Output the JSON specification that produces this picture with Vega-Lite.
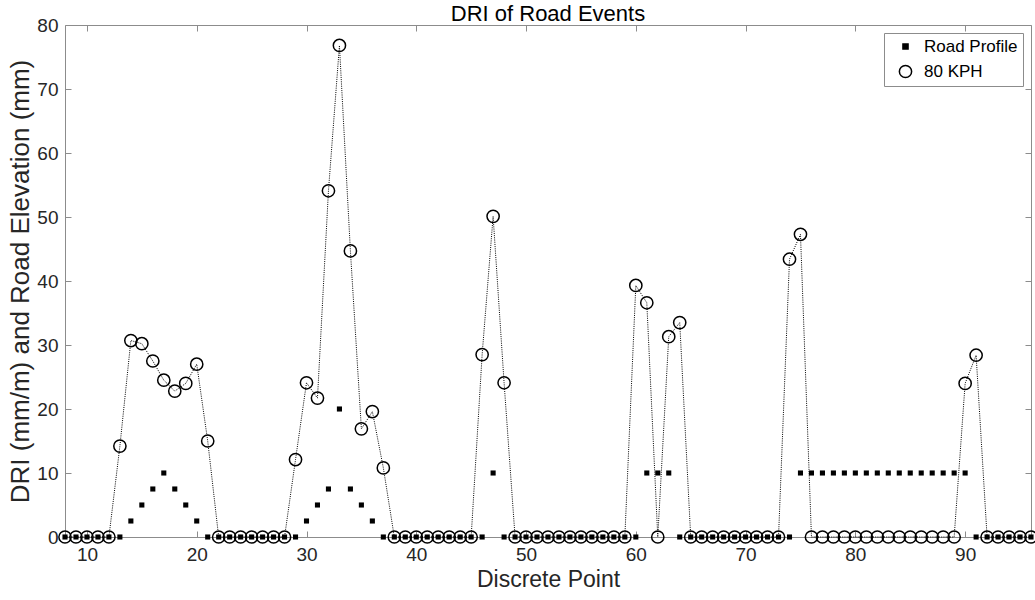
{
  "$schema": "https://vega.github.io/schema/vega-lite/v6.json",
  "width": 966,
  "height": 512,
  "autosize": {"type": "none"},
  "padding": {"left": 65, "top": 25, "right": 4, "bottom": 63},
  "background": "white",
  "title": {"text": "DRI of Road Events", "fontSize": 22, "fontWeight": "normal", "font": "Liberation Sans", "color": "#000000", "offset": -10},
  "config": {
    "view": {"stroke": "#8c8c8c", "strokeWidth": 1},
    "axis": {
      "grid": false,
      "domain": false,
      "tickColor": "#8c8c8c",
      "tickSize": -6,
      "labelFont": "Liberation Sans",
      "labelFontSize": 19,
      "labelColor": "#262626",
      "titleFont": "Liberation Sans",
      "titleFontWeight": "normal",
      "titleColor": "#262626"
    },
    "legend": {
      "orient": "top-right",
      "offset": 8,
      "strokeColor": "#8c8c8c",
      "fillColor": "white",
      "padding": 5,
      "labelFont": "Liberation Sans",
      "labelFontSize": 17,
      "labelColor": "#000000",
      "rowPadding": 7,
      "symbolOffset": 8,
      "labelOffset": 10,
      "symbolStrokeWidth": 1.5
    }
  },
  "data": {
    "values": [
      {"x": 8, "80 KPH": 0, "Road Profile": 0},
      {"x": 9, "80 KPH": 0, "Road Profile": 0},
      {"x": 10, "80 KPH": 0, "Road Profile": 0},
      {"x": 11, "80 KPH": 0, "Road Profile": 0},
      {"x": 12, "80 KPH": 0, "Road Profile": 0},
      {"x": 13, "80 KPH": 14.2, "Road Profile": 0},
      {"x": 14, "80 KPH": 30.7, "Road Profile": 2.5},
      {"x": 15, "80 KPH": 30.2, "Road Profile": 5},
      {"x": 16, "80 KPH": 27.5, "Road Profile": 7.5},
      {"x": 17, "80 KPH": 24.5, "Road Profile": 10},
      {"x": 18, "80 KPH": 22.8, "Road Profile": 7.5},
      {"x": 19, "80 KPH": 24.0, "Road Profile": 5},
      {"x": 20, "80 KPH": 27.0, "Road Profile": 2.5},
      {"x": 21, "80 KPH": 15.0, "Road Profile": 0},
      {"x": 22, "80 KPH": 0, "Road Profile": 0},
      {"x": 23, "80 KPH": 0, "Road Profile": 0},
      {"x": 24, "80 KPH": 0, "Road Profile": 0},
      {"x": 25, "80 KPH": 0, "Road Profile": 0},
      {"x": 26, "80 KPH": 0, "Road Profile": 0},
      {"x": 27, "80 KPH": 0, "Road Profile": 0},
      {"x": 28, "80 KPH": 0, "Road Profile": 0},
      {"x": 29, "80 KPH": 12.1, "Road Profile": 0},
      {"x": 30, "80 KPH": 24.1, "Road Profile": 2.5},
      {"x": 31, "80 KPH": 21.7, "Road Profile": 5},
      {"x": 32, "80 KPH": 54.1, "Road Profile": 7.5},
      {"x": 33, "80 KPH": 76.8, "Road Profile": 20},
      {"x": 34, "80 KPH": 44.7, "Road Profile": 7.5},
      {"x": 35, "80 KPH": 16.9, "Road Profile": 5},
      {"x": 36, "80 KPH": 19.6, "Road Profile": 2.5},
      {"x": 37, "80 KPH": 10.8, "Road Profile": 0},
      {"x": 38, "80 KPH": 0, "Road Profile": 0},
      {"x": 39, "80 KPH": 0, "Road Profile": 0},
      {"x": 40, "80 KPH": 0, "Road Profile": 0},
      {"x": 41, "80 KPH": 0, "Road Profile": 0},
      {"x": 42, "80 KPH": 0, "Road Profile": 0},
      {"x": 43, "80 KPH": 0, "Road Profile": 0},
      {"x": 44, "80 KPH": 0, "Road Profile": 0},
      {"x": 45, "80 KPH": 0, "Road Profile": 0},
      {"x": 46, "80 KPH": 28.5, "Road Profile": 0},
      {"x": 47, "80 KPH": 50.1, "Road Profile": 10},
      {"x": 48, "80 KPH": 24.1, "Road Profile": 0},
      {"x": 49, "80 KPH": 0, "Road Profile": 0},
      {"x": 50, "80 KPH": 0, "Road Profile": 0},
      {"x": 51, "80 KPH": 0, "Road Profile": 0},
      {"x": 52, "80 KPH": 0, "Road Profile": 0},
      {"x": 53, "80 KPH": 0, "Road Profile": 0},
      {"x": 54, "80 KPH": 0, "Road Profile": 0},
      {"x": 55, "80 KPH": 0, "Road Profile": 0},
      {"x": 56, "80 KPH": 0, "Road Profile": 0},
      {"x": 57, "80 KPH": 0, "Road Profile": 0},
      {"x": 58, "80 KPH": 0, "Road Profile": 0},
      {"x": 59, "80 KPH": 0, "Road Profile": 0},
      {"x": 60, "80 KPH": 39.3, "Road Profile": 0},
      {"x": 61, "80 KPH": 36.6, "Road Profile": 10},
      {"x": 62, "80 KPH": 0, "Road Profile": 10},
      {"x": 63, "80 KPH": 31.3, "Road Profile": 10},
      {"x": 64, "80 KPH": 33.5, "Road Profile": 0},
      {"x": 65, "80 KPH": 0, "Road Profile": 0},
      {"x": 66, "80 KPH": 0, "Road Profile": 0},
      {"x": 67, "80 KPH": 0, "Road Profile": 0},
      {"x": 68, "80 KPH": 0, "Road Profile": 0},
      {"x": 69, "80 KPH": 0, "Road Profile": 0},
      {"x": 70, "80 KPH": 0, "Road Profile": 0},
      {"x": 71, "80 KPH": 0, "Road Profile": 0},
      {"x": 72, "80 KPH": 0, "Road Profile": 0},
      {"x": 73, "80 KPH": 0, "Road Profile": 0},
      {"x": 74, "80 KPH": 43.4, "Road Profile": 0},
      {"x": 75, "80 KPH": 47.3, "Road Profile": 10},
      {"x": 76, "80 KPH": 0, "Road Profile": 10},
      {"x": 77, "80 KPH": 0, "Road Profile": 10},
      {"x": 78, "80 KPH": 0, "Road Profile": 10},
      {"x": 79, "80 KPH": 0, "Road Profile": 10},
      {"x": 80, "80 KPH": 0, "Road Profile": 10},
      {"x": 81, "80 KPH": 0, "Road Profile": 10},
      {"x": 82, "80 KPH": 0, "Road Profile": 10},
      {"x": 83, "80 KPH": 0, "Road Profile": 10},
      {"x": 84, "80 KPH": 0, "Road Profile": 10},
      {"x": 85, "80 KPH": 0, "Road Profile": 10},
      {"x": 86, "80 KPH": 0, "Road Profile": 10},
      {"x": 87, "80 KPH": 0, "Road Profile": 10},
      {"x": 88, "80 KPH": 0, "Road Profile": 10},
      {"x": 89, "80 KPH": 0, "Road Profile": 10},
      {"x": 90, "80 KPH": 24.0, "Road Profile": 10},
      {"x": 91, "80 KPH": 28.4, "Road Profile": 0},
      {"x": 92, "80 KPH": 0, "Road Profile": 0},
      {"x": 93, "80 KPH": 0, "Road Profile": 0},
      {"x": 94, "80 KPH": 0, "Road Profile": 0},
      {"x": 95, "80 KPH": 0, "Road Profile": 0},
      {"x": 96, "80 KPH": 0, "Road Profile": 0}
    ]
  },
  "transform": [{"fold": ["80 KPH", "Road Profile"], "as": ["series", "value"]}],
  "layer": [
    {
      "transform": [{"filter": "datum.series === '80 KPH'"}],
      "mark": {"type": "line", "color": "#000000", "strokeWidth": 1, "strokeDash": [1, 1.2]},
      "encoding": {
        "x": {"field": "x", "type": "quantitative", "scale": {"domain": [8, 96], "nice": false, "zero": false},
              "axis": {"orient": "top", "labels": false, "title": null, "values": [10, 20, 30, 40, 50, 60, 70, 80, 90]}},
        "y": {"field": "value", "type": "quantitative", "scale": {"domain": [0, 80], "nice": false},
              "axis": {"orient": "right", "labels": false, "title": null, "values": [0, 10, 20, 30, 40, 50, 60, 70, 80]}}
      }
    },
    {
      "transform": [{"filter": "datum.series === '80 KPH'"}],
      "mark": {"type": "point", "strokeWidth": 1.5, "opacity": 1},
      "encoding": {
        "x": {"field": "x", "type": "quantitative",
              "axis": {"orient": "bottom", "title": "Discrete Point", "titleFontSize": 23, "values": [10, 20, 30, 40, 50, 60, 70, 80, 90], "labelPadding": 14, "titlePadding": 4}},
        "y": {"field": "value", "type": "quantitative",
              "axis": {"orient": "left", "title": "DRI (mm/m) and Road Elevation (mm)", "titleFontSize": 26, "values": [0, 10, 20, 30, 40, 50, 60, 70, 80], "labelPadding": 13, "titlePadding": 3}},
        "shape": {"field": "series", "type": "nominal", "scale": {"domain": ["Road Profile", "80 KPH"], "range": ["square", "circle"]}, "legend": {"title": null}},
        "fill": {"field": "series", "type": "nominal", "scale": {"domain": ["Road Profile", "80 KPH"], "range": ["#000000", "transparent"]}, "legend": {"title": null}},
        "stroke": {"field": "series", "type": "nominal", "scale": {"domain": ["Road Profile", "80 KPH"], "range": ["#000000", "#000000"]}, "legend": {"title": null}},
        "size": {"field": "series", "type": "nominal", "scale": {"domain": ["Road Profile", "80 KPH"], "range": [26, 150]}, "legend": {"title": null}}
      }
    },
    {
      "transform": [{"filter": "datum.series === 'Road Profile'"}],
      "mark": {"type": "point", "strokeWidth": 0, "opacity": 1},
      "encoding": {
        "x": {"field": "x", "type": "quantitative", "axis": null},
        "y": {"field": "value", "type": "quantitative", "axis": null},
        "shape": {"field": "series", "type": "nominal"},
        "fill": {"field": "series", "type": "nominal"},
        "stroke": {"field": "series", "type": "nominal"},
        "size": {"field": "series", "type": "nominal"}
      }
    }
  ],
  "resolve": {"axis": {"x": "independent", "y": "independent"}}
}
